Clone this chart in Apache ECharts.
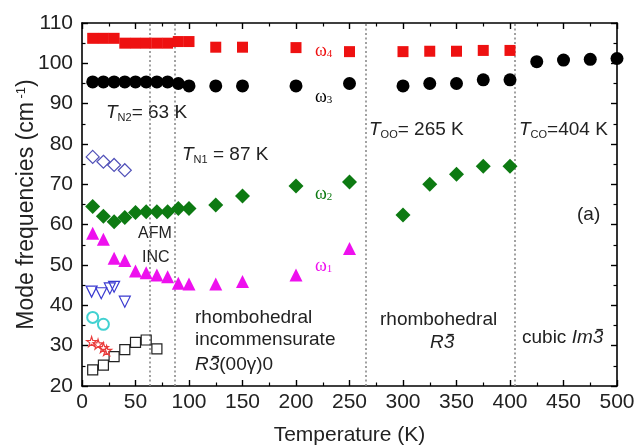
<!DOCTYPE html>
<html>
<head>
<meta charset="utf-8">
<script src="https://cdn.jsdelivr.net/npm/echarts@6/dist/echarts.min.js"></script>
<style>
  html, body { margin: 0; padding: 0; background: #fff; }
  #chart { width: 635px; height: 445px; }
</style>
</head>
<body>
<div id="chart"></div>
<script>
// Phonon mode frequencies versus temperature
const tempOmega4 = [10, 20, 30, 40, 50, 60, 70, 80, 90, 100, 125, 150, 200, 250, 300, 325, 350, 375, 400];
const omega4 = [106.2, 106.2, 106.2, 105.0, 105.0, 105.0, 105.0, 105.0, 105.4, 105.4, 104.0, 104.0, 103.9, 102.9, 102.9, 103.0, 103.0, 103.2, 103.2];

const tempOmega3 = [10, 20, 30, 40, 50, 60, 70, 80, 90, 100, 125, 150, 200, 250, 300, 325, 350, 375, 400, 425, 450, 475, 500];
const omega3 = [95.4, 95.4, 95.4, 95.4, 95.4, 95.4, 95.4, 95.4, 95.0, 94.4, 94.4, 94.4, 94.4, 95.0, 94.4, 95.0, 95.0, 95.9, 95.9, 100.4, 100.8, 101.0, 101.2];

const tempOmega2 = [10, 20, 30, 40, 50, 60, 70, 80, 90, 100, 125, 150, 200, 250, 300, 325, 350, 375, 400];
const omega2 = [64.5, 62.1, 60.7, 61.8, 63.0, 63.2, 63.2, 63.2, 64.0, 64.0, 64.9, 67.1, 69.6, 70.6, 62.4, 70.0, 72.5, 74.5, 74.5];

const tempOmega1 = [10, 20, 30, 40, 50, 60, 70, 80, 90, 100, 125, 150, 200, 250];
const omega1 = [57.9, 56.4, 51.7, 51.1, 48.5, 48.1, 47.5, 47.1, 45.5, 45.3, 45.3, 45.9, 47.5, 54.1];

// Low-temperature modes (open symbols)
const tempModeA = [10, 20, 30, 40];
const modeA = [76.8, 75.6, 74.8, 73.5];
const tempModeB = [9, 18, 26, 30, 40];
const modeB = [43.4, 43.0, 44.2, 44.6, 40.9];
const tempModeC = [10, 20];
const modeC = [37.0, 35.3];
const tempModeD = [9, 15, 20, 23];
const modeD = [31.0, 30.4, 29.5, 28.8];
const tempModeE = [10, 20, 30, 40, 50, 60, 70];
const modeE = [24.0, 25.2, 27.3, 29.0, 30.8, 31.4, 29.2];

// Phase transition temperatures (K)
const transitions = [63, 87, 265, 404];

// Axis ranges
const xTicks = { min: 0, max: 500, step: 50 };
const yTicks = { min: 20, max: 110, step: 10 };

const SANS = '"Liberation Sans", Arial, sans-serif';
const SERIF = '"Liberation Serif", "Times New Roman", serif';

const pairs = (xs, ys) => xs.map((x, i) => [x, ys[i]]);

const starPath = 'path://M50,0 L61,35 L98,35 L68,57 L79,91 L50,70 L21,91 L32,57 L2,35 L39,35 Z';

function filled(name, xs, ys, symbol, size, color, extra) {
  return Object.assign({
    name, type: 'scatter', data: pairs(xs, ys), symbol, symbolSize: size,
    itemStyle: { color: color, opacity: 1 }, z: 5
  }, extra || {});
}
function open(name, xs, ys, symbol, size, color, extra) {
  return Object.assign({
    name, type: 'scatter', data: pairs(xs, ys), symbol, symbolSize: size,
    itemStyle: { color: 'rgba(255,255,255,0)', borderColor: color, borderWidth: 1.2, opacity: 1 }, z: 5
  }, extra || {});
}

// Text measuring, used to put the bar over the "3" of the space-group symbols
const measureCtx = document.createElement('canvas').getContext('2d');
function textWidth(str, font) {
  measureCtx.font = font;
  return measureCtx.measureText(str).width;
}

// Space-group symbol: italic prefix + "3" with an overbar + optional upright suffix
function spaceGroup(left, top, prefix, italicPart, suffix) {
  const fs = 19;
  const fontN = fs + 'px ' + SANS;
  const fontI = 'italic ' + fs + 'px ' + SANS;
  const x0 = textWidth(prefix, fontN) + textWidth(italicPart, fontI);
  const w3 = textWidth('3', fontI);
  return {
    type: 'group', left: left, top: top,
    children: [
      { type: 'text', x: 0, y: 0, style: {
          text: (prefix ? '{n|' + prefix + '}' : '') + '{i|' + italicPart + '3}' + (suffix ? '{n|' + suffix + '}' : ''),
          rich: { i: { font: fontI, fill: '#222' }, n: { font: fontN, fill: '#222' } } } },
      { type: 'line', shape: { x1: x0 + w3 * 0.35, y1: 1.5, x2: x0 + w3 * 0.95, y2: 1.5 },
        style: { stroke: '#222', lineWidth: 1.2 } }
    ]
  };
}

const chart = echarts.init(document.getElementById('chart'), null, { renderer: 'canvas' });

const axisCommon = {
  type: 'value',
  axisLine: { show: true, onZero: false, lineStyle: { color: '#000', width: 1.6 } },
  axisTick: { show: true, inside: true, length: 6, lineStyle: { color: '#000', width: 1.4 } },
  minorTick: { show: true, splitNumber: 2, length: 3.5, lineStyle: { color: '#000', width: 1.2 } },
  splitLine: { show: false }
};

function tRich() {
  return {
    t: { fontSize: 19, fontFamily: SANS, fontStyle: 'italic', fill: '#222', lineHeight: 22 },
    s: { fontSize: 11, fontFamily: SANS, fill: '#222', verticalAlign: 'bottom', lineHeight: 8 },
    n: { fontSize: 19, fontFamily: SANS, fill: '#222', lineHeight: 22 }
  };
}
function omegaLabel(left, top, sub, color) {
  return { type: 'text', left: left, top: top, style: { text: '{w|ω}{s|' + sub + '}', rich: {
    w: { fontSize: 18, fontFamily: SERIF, fill: color },
    s: { fontSize: 11, fontFamily: SERIF, fill: color, verticalAlign: 'bottom', lineHeight: 8 } } } };
}

const option = {
  animation: false,
  backgroundColor: '#fff',
  grid: { left: 82, right: 18, top: 23, bottom: 59, containLabel: false, outerBoundsMode: 'none' },
  xAxis: [
    Object.assign({}, axisCommon, {
      min: xTicks.min, max: xTicks.max, interval: xTicks.step, position: 'bottom',
      axisLabel: { show: true, color: '#222', fontSize: 21, fontFamily: SANS, margin: 6 },
      name: 'Temperature (K)', nameLocation: 'middle', nameGap: 39, nameMoveOverlap: false,
      nameTextStyle: { color: '#222', fontSize: 21, fontFamily: SANS }
    }),
    Object.assign({}, axisCommon, {
      min: xTicks.min, max: xTicks.max, interval: xTicks.step, position: 'top',
      axisLabel: { show: false }
    })
  ],
  yAxis: [
    Object.assign({}, axisCommon, {
      min: yTicks.min, max: yTicks.max, interval: yTicks.step, position: 'left',
      axisLabel: { show: true, color: '#222', fontSize: 21, fontFamily: SANS, margin: 9 },
      name: 'Mode frequencies (cm{sup| -1})', nameLocation: 'middle', nameGap: 44, nameMoveOverlap: false,
      nameTextStyle: {
        color: '#222', fontSize: 23, fontFamily: SANS,
        rich: { sup: { fontSize: 13, fontFamily: SANS, color: '#222', verticalAlign: 'top', lineHeight: 12 } }
      }
    }),
    Object.assign({}, axisCommon, {
      min: yTicks.min, max: yTicks.max, interval: yTicks.step, position: 'right',
      axisLabel: { show: false }
    })
  ],
  series: [
    {
      name: 'transitions', type: 'line', data: [], silent: true,
      markLine: {
        symbol: ['none', 'none'], silent: true, label: { show: false },
        lineStyle: { color: '#8a8a8a', type: [2, 2.5], width: 1.6 },
        data: transitions.map(t => ({ xAxis: t }))
      }
    },
    open('modeE', tempModeE, modeE, 'rect', 10, '#222'),
    open('modeD', tempModeD, modeD, starPath, 10, '#ea3c3c'),
    open('modeC', tempModeC, modeC, 'circle', 11, '#13c6c6', { itemStyle: { color: 'rgba(255,255,255,0)', borderColor: '#13c6c6', borderWidth: 2 } }),
    open('modeB', tempModeB, modeB, 'triangle', 11, '#3a3ad0', { symbolRotate: 180 }),
    open('modeA', tempModeA, modeA, 'diamond', 13, '#5050b8'),
    filled('omega1', tempOmega1, omega1, 'triangle', 13, '#ee10ee'),
    filled('omega2', tempOmega2, omega2, 'diamond', 15, '#0d7a12'),
    filled('omega3', tempOmega3, omega3, 'circle', 13, '#000'),
    filled('omega4', tempOmega4, omega4, 'rect', 11, '#ee1111')
  ],
  graphic: [
    // mode labels
    omegaLabel(315, 42, '4', '#ee1111'),
    omegaLabel(315, 88, '3', '#000'),
    omegaLabel(315, 185, '2', '#0d7a12'),
    omegaLabel(315, 257, '1', '#ee10ee'),
    // transition temperatures
    { type: 'text', left: 106, top: 103, style: { text: '{t|T}{s|N2}{n|= 63 K}', rich: tRich() } },
    { type: 'text', left: 182, top: 145, style: { text: '{t|T}{s|N1}{n| = 87 K}', rich: tRich() } },
    { type: 'text', left: 369, top: 120, style: { text: '{t|T}{s|OO}{n|= 265 K}', rich: tRich() } },
    { type: 'text', left: 519, top: 120, style: { text: '{t|T}{s|CO}{n|=404 K}', rich: tRich() } },
    { type: 'text', left: 577, top: 205, style: { text: '(a)', font: '19px ' + SANS, fill: '#222' } },
    // magnetic phase
    { type: 'text', left: 138, top: 226, style: { text: 'AFM', font: '16px ' + SANS, fill: '#222' } },
    { type: 'text', left: 142, top: 250, style: { text: 'INC', font: '16px ' + SANS, fill: '#222' } },
    // structural phases
    { type: 'text', left: 195, top: 307, style: { text: 'rhombohedral\nincommensurate', font: '19px ' + SANS, fill: '#222', lineHeight: 22 } },
    spaceGroup(195, 354, '', 'R', '(00γ)0'),
    { type: 'text', left: 380, top: 310, style: { text: 'rhombohedral', font: '19px ' + SANS, fill: '#222' } },
    spaceGroup(430, 332, '', 'R', ''),
    spaceGroup(522, 327, 'cubic ', 'Im', '')
  ]
};

chart.setOption(option);
</script>
</body>
</html>
